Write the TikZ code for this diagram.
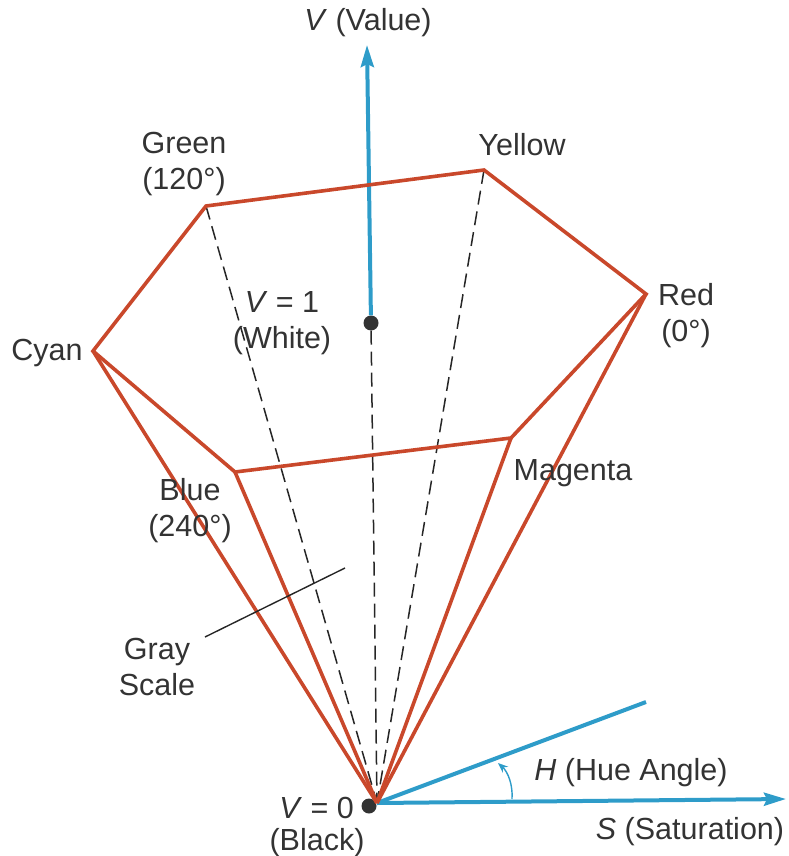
\documentclass[tikz,border=0pt]{standalone}
\usepackage{fontspec}
\setmainfont{Liberation Sans}
\usetikzlibrary{arrows.meta}
\definecolor{hexorange}{HTML}{C9482B}
\definecolor{axisblue}{HTML}{2E9CC9}
\definecolor{inkgray}{HTML}{333333}

\begin{document}
\begin{tikzpicture}[
  x=1pt, y=-1pt,
  font=\fontsize{30.5}{36}\selectfont,
  lbl/.style={align=center, inner sep=0pt, text=inkgray},
  edge/.style={hexorange, line width=3.6pt, line join=miter},
  axis/.style={axisblue, line width=4pt},
  axisarr/.style={axis, -{Stealth[length=22pt, width=13pt, inset=3pt]}},
  dashline/.style={black!85, line width=1.5pt, dash pattern=on 14pt off 7pt},
  dot/.style={circle, fill=black!80, inner sep=0pt, minimum size=15pt}]
\useasboundingbox (0,0) rectangle (789,856);
% hexagon corners
\coordinate (green) at (206,206);
\coordinate (yellow) at (484,170);
\coordinate (red) at (646,294);
\coordinate (magenta) at (511,438);
\coordinate (blue) at (235,472);
\coordinate (cyan) at (93,351);
\coordinate (apex) at (377,803);
\coordinate (valuetip) at (367,45);
\coordinate (sattip) at (786,799);
\coordinate (hueend) at (646,702);
\coordinate (arcstart) at (512,799);
\coordinate (arcend) at (498,763);
\coordinate (grayin) at (345,568);
\coordinate (grayout) at (205,637);
\node[dot] (white) at (371,323) {};
\node[dot] (black) at (369,806) {};
% hidden edges
\draw[dashline] (green) -- (apex);
\draw[dashline] (yellow) -- (apex);
\draw[dashline] (white) -- (apex);
% axes
\draw[axisarr] (white) -- (valuetip);
\draw[axisarr] (apex) -- (sattip);
\draw[axis] (apex) -- (hueend);
\draw[axisblue, line width=1.4pt, -{Stealth[length=10pt, width=8pt]}] (arcstart) .. controls (513,785) and (508,772) .. (arcend);
% cone
\draw[edge] (green) -- (yellow) -- (red) -- (magenta) -- (blue) -- (cyan) -- cycle;
\draw[edge] (cyan) -- (apex);
\draw[edge] (blue) -- (apex);
\draw[edge] (magenta) -- (apex);
\draw[edge] (red) -- (apex);
\draw[black!85, line width=1.4pt] (grayout) -- (grayin);
% labels
\node[lbl] (valuelbl) at (368,23) {\textit{V} (Value)};
\node[lbl] (greenlbl) at (184,164) {Green\\(120°)};
\node[lbl] (yellowlbl) at (522,145) {Yellow};
\node[lbl] (redlbl) at (686,316) {Red\\(0°)};
\node[lbl] (cyanlbl) at (47,353) {Cyan};
\node[lbl] (whitelbl) at (282,323) {\textit{V} = 1\\(White)};
\node[lbl] (magentalbl) at (573,473) {Magenta};
\node[lbl] (bluelbl) at (190,511) {Blue\\(240°)};
\node[lbl] (graylbl) at (157,667) {Gray\\Scale};
\node[lbl, anchor=east] (zerolbl) at (354,808) {\textit{V} = 0};
\node[lbl] (blacklbl) at (317,843) {(Black)};
\node[lbl] (huelbl) at (631,773) {\textit{H} (Hue Angle)};
\node[lbl] (satlbl) at (690,832) {\textit{S} (Saturation)};
\end{tikzpicture}
\end{document}
